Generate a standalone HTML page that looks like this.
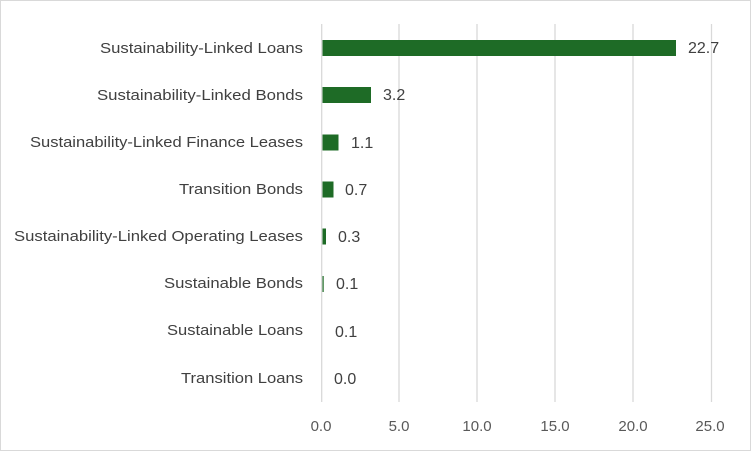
<!DOCTYPE html>
<html><head><meta charset="utf-8"><style>
body{margin:0;background:#fff}
svg{display:block;font-family:"Liberation Sans",sans-serif}
</style></head><body>
<svg width="752" height="452" xmlns="http://www.w3.org/2000/svg">
<rect x="0.5" y="0.5" width="750" height="450" fill="#fff" stroke="#d9d9d9"/>
<g stroke="#d9d9d9" stroke-width="1.3">
<line x1="321.7" y1="24" x2="321.7" y2="402"/>
<line x1="399" y1="24" x2="399" y2="402"/>
<line x1="477" y1="24" x2="477" y2="402"/>
<line x1="555" y1="24" x2="555" y2="402"/>
<line x1="633" y1="24" x2="633" y2="402"/>
<line x1="711.5" y1="24" x2="711.5" y2="402"/>
</g>
<g fill="#1e6b26">
<rect x="322.5" y="40" width="353.5" height="16"/>
<rect x="322.5" y="87" width="48.5" height="16"/>
<rect x="322.5" y="134.5" width="16" height="16"/>
<rect x="322.5" y="181.5" width="11" height="16"/>
<rect x="322.5" y="228.5" width="3.5" height="16"/>
<rect x="322.5" y="276" width="1.2" height="16"/>
</g>
<g font-size="15" fill="#404040" text-anchor="end" lengthAdjust="spacingAndGlyphs">
<text x="303" y="53" textLength="203" lengthAdjust="spacingAndGlyphs">Sustainability-Linked Loans</text>
<text x="303" y="100" textLength="206" lengthAdjust="spacingAndGlyphs">Sustainability-Linked Bonds</text>
<text x="303" y="147" textLength="273" lengthAdjust="spacingAndGlyphs">Sustainability-Linked Finance Leases</text>
<text x="303" y="194" textLength="124" lengthAdjust="spacingAndGlyphs">Transition Bonds</text>
<text x="303" y="241" textLength="289" lengthAdjust="spacingAndGlyphs">Sustainability-Linked Operating Leases</text>
<text x="303" y="288" textLength="139" lengthAdjust="spacingAndGlyphs">Sustainable Bonds</text>
<text x="303" y="335" textLength="136" lengthAdjust="spacingAndGlyphs">Sustainable Loans</text>
<text x="303" y="383" textLength="122" lengthAdjust="spacingAndGlyphs">Transition Loans</text>
</g>
<g font-size="16" fill="#404040">
<text x="688" y="53">22.7</text>
<text x="383" y="100">3.2</text>
<text x="351" y="148">1.1</text>
<text x="345" y="195">0.7</text>
<text x="338" y="242">0.3</text>
<text x="336" y="289">0.1</text>
<text x="335" y="337">0.1</text>
<text x="334" y="384">0.0</text>
</g>
<g font-size="15" fill="#595959" text-anchor="middle">
<text x="321" y="431">0.0</text>
<text x="399" y="431">5.0</text>
<text x="477" y="431">10.0</text>
<text x="555" y="431">15.0</text>
<text x="633" y="431">20.0</text>
<text x="710" y="431">25.0</text>
</g>
</svg>
</body></html>
